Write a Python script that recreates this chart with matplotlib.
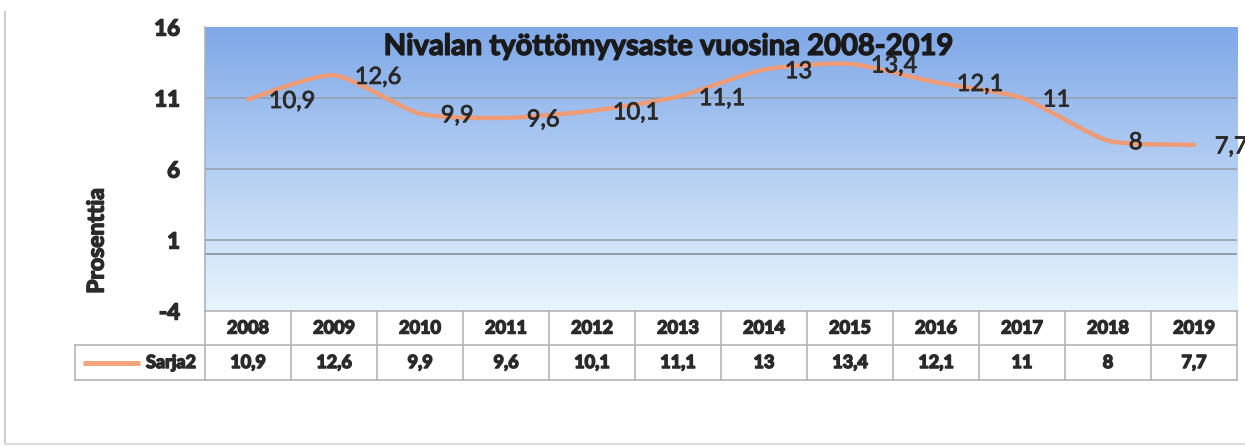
import numpy as np
import matplotlib
matplotlib.use("Agg")
import matplotlib.pyplot as plt
import matplotlib.transforms as mtransforms
import matplotlib.patheffects as pe
from matplotlib.path import Path
from matplotlib.patches import PathPatch
from matplotlib.lines import Line2D

# ---------------- data ----------------
years = ["2008", "2009", "2010", "2011", "2012", "2013",
         "2014", "2015", "2016", "2017", "2018", "2019"]
values = [10.9, 12.6, 9.9, 9.6, 10.1, 11.1, 13, 13.4, 12.1, 11, 8, 7.7]
value_labels = ["10,9", "12,6", "9,9", "9,6", "10,1", "11,1",
                "13", "13,4", "12,1", "11", "8", "7,7"]
series_name = "Sarja2"
title = "Nivalan työttömyysaste vuosina 2008-2019"
ylabel = "Prosenttia"
yticks = [-4, 1, 6, 11, 16]

# ---------------- style ----------------
plt.rcParams["font.family"] = ["Lato", "DejaVu Sans"]
LINE_COLOR = "#ee9c78"
TEXT_COLOR = "#2a2a2a"
TABLE_LINE = "#b4b4b4"
HEAVY = [pe.withStroke(linewidth=1.1, foreground=TEXT_COLOR)]
MED = [pe.withStroke(linewidth=0.6, foreground=TEXT_COLOR)]

W, H = 1245, 446
fig = plt.figure(figsize=(W / 100, H / 100), dpi=100)
fig.patch.set_facecolor("white")


def fx(px):
    return px / W


def fy(py):
    return 1 - py / H


ax = fig.add_axes([fx(205), fy(311), fx(1237) - fx(205), fy(27) - fy(311)])

# gradient background
top = np.array([0.50, 0.66, 0.91])
bot = np.array([0.91, 0.96, 0.99])
t = np.linspace(0, 1, 256)[:, None, None]
grad = top * (1 - t) + bot * t
ax.imshow(grad, extent=[0, 1, 0, 1], transform=ax.transAxes,
          aspect="auto", zorder=0)

n = len(values)
x = np.arange(n)
ax.set_xlim(-0.5, n - 0.5)
ax.set_ylim(yticks[0], yticks[-1])

# gridlines
for v in yticks[1:-1]:
    ax.axhline(v, color="#93a2ae", lw=1.2, zorder=1)
ax.axhline(0, color="#8a98a2", lw=1.3, zorder=1)

# smoothed line (cardinal spline -> cubic Bezier)
pts = np.column_stack([x, values]).astype(float)
verts = [tuple(pts[0])]
codes = [Path.MOVETO]
k = 1.0 / 9.0
for i in range(n - 1):
    p0 = pts[i - 1] if i > 0 else pts[i]
    p1 = pts[i]
    p2 = pts[i + 1]
    p3 = pts[i + 2] if i + 2 < n else pts[i + 1]
    c1 = p1 + (p2 - p0) * k
    c2 = p2 - (p3 - p1) * k
    verts += [tuple(c1), tuple(c2), tuple(p2)]
    codes += [Path.CURVE4] * 3
ax.add_patch(PathPatch(Path(verts, codes), fill=False, edgecolor=LINE_COLOR,
                       lw=3.2, capstyle="round", joinstyle="round", zorder=3))

# data labels
for xi, v, lbl in zip(x, values, value_labels):
    ax.annotate(lbl, (xi, v), xytext=(15, -1.5), textcoords="offset points",
                ha="left", va="center", fontsize=17, color=TEXT_COLOR,
                zorder=4, annotation_clip=False, path_effects=MED)

# title
ax.text(0.449, 0.93, title, transform=ax.transAxes, ha="center", va="center",
        fontsize=21, fontweight="bold", color="#1a1a1a", zorder=5,
        path_effects=[pe.withStroke(linewidth=1.0, foreground="#1a1a1a")])

# axes
for s in ax.spines.values():
    s.set_visible(False)
ax.set_xticks([])
ax.set_yticks(yticks)
ax.set_yticklabels([str(v) for v in yticks], fontsize=16, fontweight="bold",
                   color=TEXT_COLOR)
for tl in ax.get_yticklabels():
    tl.set_path_effects(HEAVY)
ax.tick_params(axis="y", length=0, pad=18)

fig.text(fx(97), fy(241), ylabel, rotation=90, ha="center", va="center",
         fontsize=16.5, fontweight="bold", color=TEXT_COLOR,
         path_effects=HEAVY)

# ---------------- data table ----------------
tr = mtransforms.blended_transform_factory(ax.transData, ax.transAxes)
ah = 311 - 27
r0 = 0.0
r1 = -(345 - 311) / ah
r2 = -(380 - 311) / ah
xl, xr = -0.5, n - 0.5

for ry in (r0, r1, r2):
    ax.plot([xl, xr], [ry, ry], transform=tr, color=TABLE_LINE, lw=1.2,
            clip_on=False, zorder=2)
for j in range(n + 1):
    ax.plot([xl + j, xl + j], [r0, r2], transform=tr, color=TABLE_LINE,
            lw=1.2, clip_on=False, zorder=2)
# left axis line through plot area
ax.plot([xl, xl], [1, r0], transform=tr, color="#a8b4bc", lw=1.2,
        clip_on=False, zorder=2)

for xi, yr, vl in zip(x, years, value_labels):
    ax.text(xi, (r0 + r1) / 2, yr, transform=tr, ha="center", va="center",
            fontsize=13, fontweight="bold", color=TEXT_COLOR,
            path_effects=HEAVY)
    ax.text(xi, (r1 + r2) / 2, vl, transform=tr, ha="center", va="center",
            fontsize=13, fontweight="bold", color=TEXT_COLOR,
            path_effects=HEAVY)

# legend key cell
lx0 = (75 - 205) / (1237 - 205)
for ry in (r1, r2):
    ax.plot([lx0, 0], [ry, ry], transform=ax.transAxes, color=TABLE_LINE,
            lw=1.2, clip_on=False)
ax.plot([lx0, lx0], [r1, r2], transform=ax.transAxes, color=TABLE_LINE,
        lw=1.2, clip_on=False)
ky = (r1 + r2) / 2
ax.plot([(83 - 205) / 1032, (140 - 205) / 1032], [ky, ky],
        transform=ax.transAxes, color="#f4a57c", lw=3.6, clip_on=False,
        solid_capstyle="butt")
ax.text((196 - 205) / 1032, ky, series_name, transform=ax.transAxes,
        ha="right", va="center", fontsize=13, fontweight="bold",
        color=TEXT_COLOR, path_effects=HEAVY)

# chart border (left and bottom)
fig.add_artist(Line2D([fx(5), fx(5)], [fy(12), fy(444)],
                      transform=fig.transFigure, color="#d0d0d0", lw=1.5))
fig.add_artist(Line2D([fx(5), fx(1245)], [fy(444), fy(444)],
                      transform=fig.transFigure, color="#dcdcdc", lw=1.5))

fig.savefig("out.png", dpi=100)
